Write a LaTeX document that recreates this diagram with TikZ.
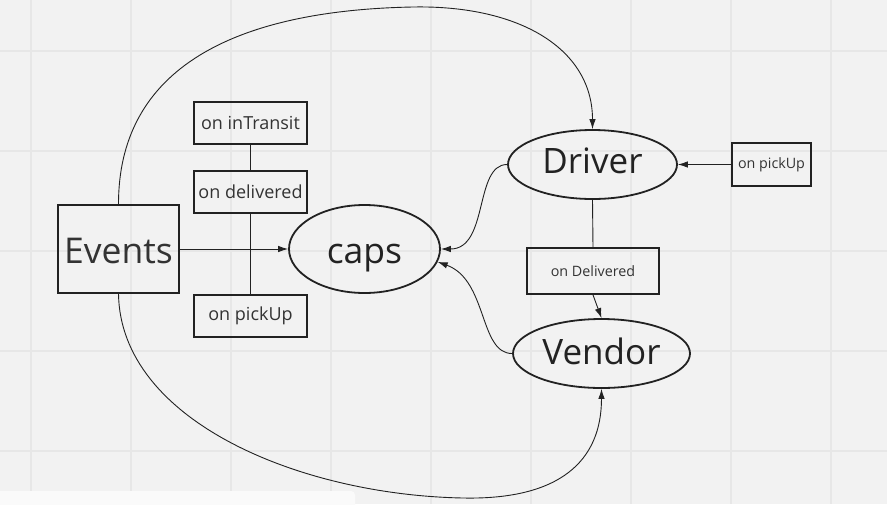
\documentclass[tikz,border=0pt]{standalone}
\usepackage{fontspec}
\setmainfont{Open Sans}
\usetikzlibrary{shapes.geometric,arrows.meta}
\definecolor{bgc}{HTML}{F2F2F2}
\definecolor{gridc}{HTML}{E7E7E7}
\definecolor{inkc}{HTML}{222222}
\definecolor{txtc}{HTML}{333333}
\tikzset{
  boxnode/.style={draw=inkc, line width=1.8pt, rectangle, inner sep=0pt, text=txtc},
  ellnode/.style={draw=inkc, line width=1.8pt, ellipse, inner sep=0pt, text=inkc},
  conn/.style={draw=inkc, line width=0.9pt},
  arr/.style={conn, -{Latex[length=10pt,width=6.5pt]}},
  bigtxt/.style={font=\fontsize{35.5}{35.5}\selectfont, text height=28pt, text depth=0pt},
  midtxt/.style={font=\fontsize{35}{35}\selectfont, text depth=0pt},
  smalltxt/.style={font=\fontsize{18}{18}\selectfont},
  tinytxt/.style={font=\fontsize{14.3}{14.3}\selectfont}
}
\begin{document}
\begin{tikzpicture}[x=1pt,y=-1pt]
\useasboundingbox (0,0) rectangle (887,504);
\fill[bgc] (0,0) rectangle (887,504);
\foreach \gx in {31,131,...,831} \draw[gridc, line width=1.4pt] (\gx,0) -- (\gx,504);
\foreach \gy in {51,151,...,451} \draw[gridc, line width=1.4pt] (0,\gy) -- (887,\gy);
\fill[white!60!bgc, rounded corners=4pt] (-10,491) rectangle (355,515);

\node[boxnode, bigtxt, minimum width=121pt, minimum height=88pt] (events) at (118.5,249) {Events};
\node[boxnode, smalltxt, minimum width=113pt, minimum height=42pt] (transit) at (250.5,123) {on inTransit};
\node[boxnode, smalltxt, minimum width=113pt, minimum height=42pt] (delivered) at (250.5,192) {on delivered};
\node[boxnode, smalltxt, minimum width=113pt, minimum height=42pt] (pickupl) at (250.5,316) {on pickUp};
\node[ellnode, bigtxt, minimum width=151pt, minimum height=88pt] (caps) at (364.5,249) {caps};
\node[ellnode, midtxt, text height=17pt, minimum width=169pt, minimum height=69pt] (driver) at (592.5,164.5) {Driver};
\node[boxnode, tinytxt, minimum width=79pt, minimum height=43pt] (pickupr) at (771.5,164.5) {on pickUp};
\node[boxnode, tinytxt, minimum width=132pt, minimum height=46pt] (deliv) at (593,271) {on Delivered};
\node[ellnode, midtxt, text height=21pt, minimum width=177pt, minimum height=69pt] (vendor) at (601.5,353.5) {Vendor};

\coordinate (toppeak) at (413,7);
\coordinate (botlow) at (463,498);

\draw[conn] (transit.south) -- (delivered.north);
\draw[conn] (delivered.south) -- (pickupl.north);
\draw[arr] (events.east) -- (caps.west);
\draw[arr] (pickupr.west) -- (driver.east);
\draw[conn] (driver.south) -- (deliv.north);
\draw[arr] (deliv.south) -- (vendor.north);
\draw[arr] (driver.west) .. controls +(-33,0) and +(48,0) .. (caps.east);
\draw[arr] (vendor.west) .. controls +(-33,0) and +(50,18) .. (caps.-10);
\draw[arr] (events.north) .. controls +(0,-145) and +(-163,3) .. (toppeak)
  .. controls +(107,-2) and +(0,-80) .. (driver.north);
\draw[arr] (events.south) .. controls +(2,127) and +(-163,-3) .. (botlow)
  .. controls +(97,2) and +(0,72) .. (vendor.south);
\end{tikzpicture}
\end{document}
